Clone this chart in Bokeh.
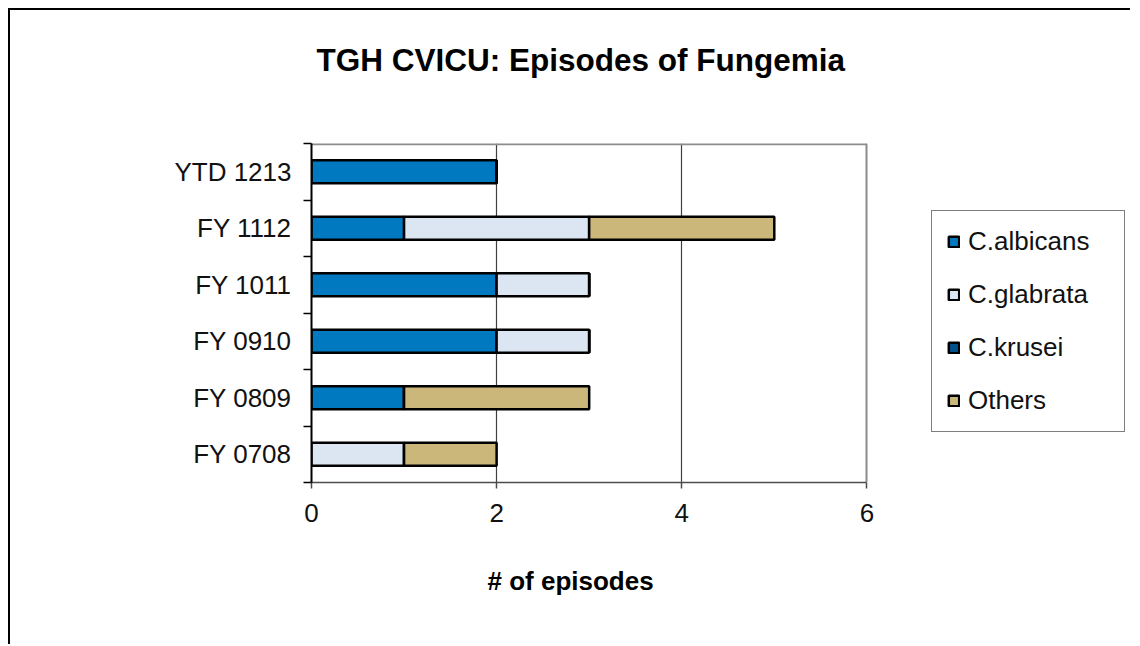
from bokeh.plotting import figure
from bokeh.layouts import column
from bokeh.models import (ColumnDataSource, Range1d, FixedTicker, Legend, LegendItem, Title, Grid)
from bokeh.embed import file_html
from bokeh.resources import INLINE

# ---- data ----
categories = ["FY 0708", "FY 0809", "FY 0910", "FY 1011", "FY 1112", "YTD 1213"]
albicans = [0, 1, 2, 2, 1, 2]
glabrata = [1, 0, 1, 1, 2, 0]
krusei = [0, 0, 0, 0, 0, 0]
others = [1, 2, 0, 0, 2, 0]
series_names = ["C.albicans", "C.glabrata", "C.krusei", "Others"]
series_colors = ["#0079C1", "#DCE6F2", "#00508C", "#CCB77A"]
x_ticks = [0, 2, 4, 6]
title_text = "TGH CVICU: Episodes of Fungemia"
x_label = "# of episodes"

FONT = "Liberation Sans"

# layout (pixels): plotting area 554 px wide; the frame is widened to host the legend
PLOT_W, FRAME_W, FRAME_H = 554, 817, 337
x_min, x_max = x_ticks[0], x_ticks[-1]
x_end = x_min + (x_max - x_min) * FRAME_W / PLOT_W
n = len(categories)

ypos = [i + 0.5 for i in range(n)]
source = ColumnDataSource(dict(y=ypos, albicans=albicans, glabrata=glabrata,
                               krusei=krusei, others=others))

p = figure(frame_width=FRAME_W, frame_height=FRAME_H, output_backend="svg",
           toolbar_location=None,
           x_range=Range1d(x_min, x_end), y_range=Range1d(0, n),
           min_border_left=301, min_border_right=2,
           min_border_top=133, min_border_bottom=164)
p.styles = {"border-left": "2px solid black", "border-top": "2px solid black"}
p.background_fill_color = "white"
p.border_fill_color = "white"
p.outline_line_color = None

renderers = p.hbar_stack(["albicans", "glabrata", "krusei", "others"], y="y",
                         height=0.41, color=series_colors, line_color="black",
                         line_width=2.5, source=source)

# axes
xa = p.xaxis[0]
xa.ticker = FixedTicker(ticks=x_ticks)
xa.bounds = (x_min, x_max)
xa.major_tick_out = 6
xa.major_tick_in = 0
xa.minor_tick_line_color = None
xa.axis_line_color = "#4d4d4d"
xa.axis_line_width = 1.5
xa.major_tick_line_color = "#4d4d4d"
xa.major_tick_line_width = 1.5
xa.major_label_text_font = FONT
xa.major_label_text_font_size = "26px"
xa.major_label_text_color = "#111111"
xa.major_label_standoff = 15

ya = p.yaxis[0]
ya.ticker = FixedTicker(ticks=ypos, minor_ticks=list(range(n + 1)))
ya.major_label_overrides = {yv: c for yv, c in zip(ypos, categories)}
ya.major_tick_line_color = None
ya.major_tick_out = 0
ya.major_tick_in = 0
ya.minor_tick_out = 8
ya.minor_tick_in = 0
ya.minor_tick_line_color = "black"
ya.minor_tick_line_width = 1.5
ya.axis_line_color = "black"
ya.axis_line_width = 2
ya.major_label_text_font = FONT
ya.major_label_text_font_size = "26px"
ya.major_label_text_color = "#111111"
ya.major_label_standoff = 12

# vertical grid lines at inner ticks
p.xgrid.ticker = FixedTicker(ticks=x_ticks[1:-1])
p.xgrid.grid_line_color = "#404040"
p.xgrid.grid_line_width = 1.2
p.ygrid.grid_line_color = None

# plot-area border (right and top), grey
p.add_layout(Grid(dimension=0, ticker=FixedTicker(ticks=[x_max]),
                  grid_line_color="#8c8c8c", grid_line_width=2))
p.segment(x0=[x_min], y0=[n], x1=[x_max], y1=[n],
          line_color="#8c8c8c", line_width=3.5)

# spacer (nearest the frame) + title
p.add_layout(Title(text=" ", text_font_size="2px", standoff=57), "above")
p.add_layout(Title(text=title_text, align="left", offset=5, standoff=10,
                   text_font=FONT, text_font_size="31.5px", text_font_style="bold",
                   text_color="black"), "above")
# x-axis title
p.add_layout(Title(text=x_label, align="left", offset=176, standoff=78,
                   text_font=FONT, text_font_size="26px", text_font_style="bold",
                   text_color="black"), "below")

# legend (inside the widened frame, to the right of the plotting area)
items = [LegendItem(label=s, renderers=[r]) for s, r in zip(series_names, renderers)]
legend = Legend(items=items, location=(620, 50), orientation="vertical",
                padding=15, spacing=22, margin=0,
                glyph_width=13, glyph_height=13, label_standoff=8,
                label_height=30, label_width=141,
                label_text_font=FONT, label_text_font_size="26px",
                label_text_color="#111111",
                border_line_color="black", border_line_width=1.2,
                background_fill_color="white", background_fill_alpha=1)
p.add_layout(legend, "center")

root = column(p, styles={"padding-left": "8px", "padding-top": "8px"})

open("out.html", "w").write(file_html(root, INLINE))
